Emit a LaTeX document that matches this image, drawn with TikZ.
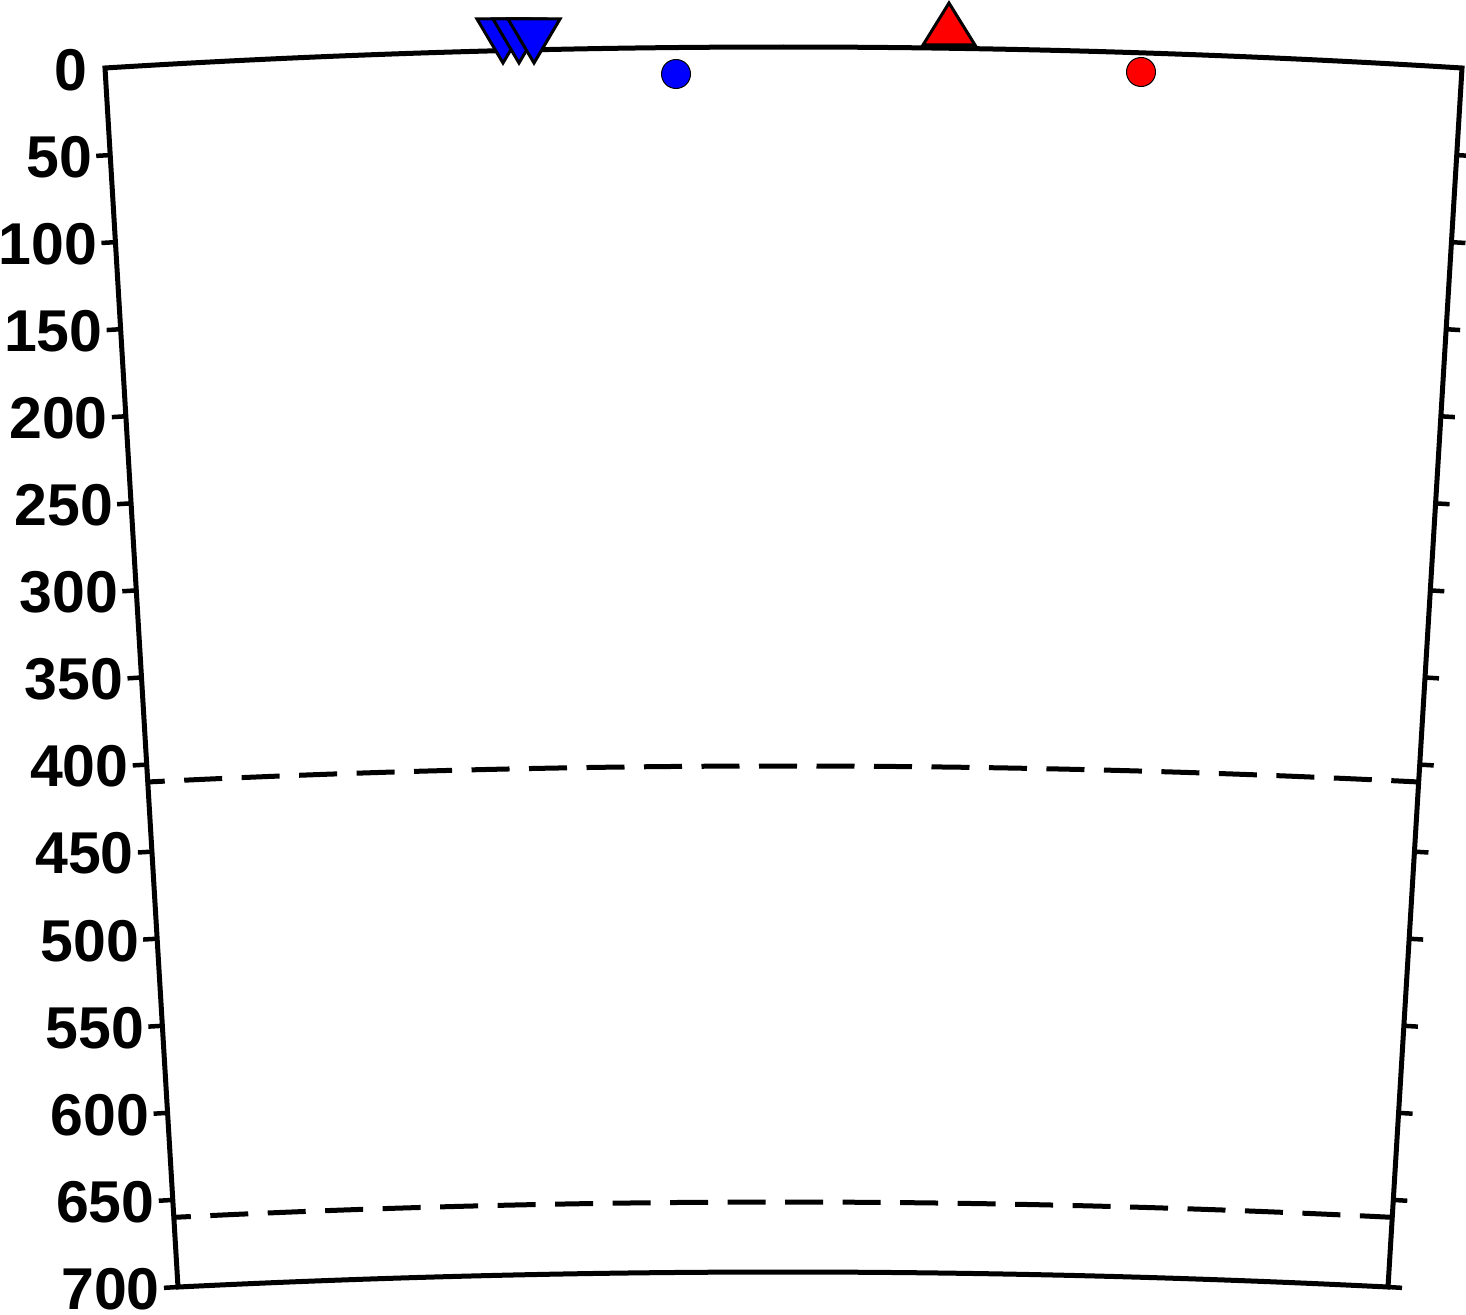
\documentclass[tikz,border=0pt]{standalone}
\usepackage{fontspec}
\setmainfont{Liberation Sans}
\usetikzlibrary{calc}
\definecolor{pblue}{RGB}{0,0,255}
\definecolor{pred}{RGB}{255,0,0}
\begin{document}
\begin{tikzpicture}[x=1pt,y=-1pt,line join=miter,
  frame/.style={line width=5pt},
  tickmark/.style={line width=4.5pt},
  disc/.style={line width=5pt,dash pattern=on 38pt off 19.5pt,dash phase=21pt},
  deplabel/.style={font=\fontsize{59}{60}\selectfont\bfseries,inner sep=0pt,anchor=east},
  bluestation/.style={fill=pblue,draw=black,line width=3pt},
  redstation/.style={fill=pred,draw=black,line width=3pt},
  blueevent/.style={fill=pblue,draw=black,line width=1pt},
  redevent/.style={fill=pred,draw=black,line width=1pt}]
\useasboundingbox (0,0) rectangle (1466,1314);
% frame corners
\coordinate (TL) at (105,68);
\coordinate (TR) at (1462,68);
\coordinate (BL) at (178,1287);
\coordinate (BR) at (1388,1287);
\coordinate (TQ) at (783.5,26);
\coordinate (BQ) at (783,1257);
% frame
\draw[frame] (TL) .. controls ($(TL)!2/3!(TQ)$) and ($(TR)!2/3!(TQ)$) .. (TR)
  -- (BR) .. controls ($(BR)!2/3!(BQ)$) and ($(BL)!2/3!(BQ)$) .. (BL) -- cycle;
% discontinuities
\coordinate (A4) at ($(TL)!410/700!(BL)$);
\coordinate (B4) at ($(TR)!410/700!(BR)$);
\coordinate (Q4) at (783.25,750);
\draw[disc] (A4) .. controls ($(A4)!2/3!(Q4)$) and ($(B4)!2/3!(Q4)$) .. (B4);
\coordinate (A6) at ($(TL)!660/700!(BL)$);
\coordinate (B6) at ($(TR)!660/700!(BR)$);
\coordinate (Q6) at (783,1186.7);
\draw[disc] (A6) .. controls ($(A6)!2/3!(Q6)$) and ($(B6)!2/3!(Q6)$) .. (B6);
% ticks and labels
\node[deplabel] (lab0) at ($(TL)+(-17,2)$) {0};
\foreach \d in {50,100,...,700}{
  \coordinate (L\d) at ($(TL)!\d/700!(BL)$);
  \coordinate (R\d) at ($(TR)!\d/700!(BR)$);
  \draw[tickmark] (L\d) -- ++(-14,0.84);
  \draw[tickmark] (R\d) -- ++(14,0.85);
  \node[deplabel] (lab\d) at ($(L\d)+(-18,2)$) {\d};
}
% stations
\draw[bluestation] (477,19) -- (529,19) -- (503,63) -- cycle;
\draw[bluestation] (493,19) -- (545,19) -- (519,63) -- cycle;
\draw[bluestation] (508,19) -- (560,19) -- (534,63) -- cycle;
\draw[redstation] (923,45) -- (975,45) -- (949,3) -- cycle;
% events
\draw[blueevent] (676,74) circle[radius=14.5];
\draw[redevent] (1141,72) circle[radius=14.5];
\end{tikzpicture}
\end{document}
